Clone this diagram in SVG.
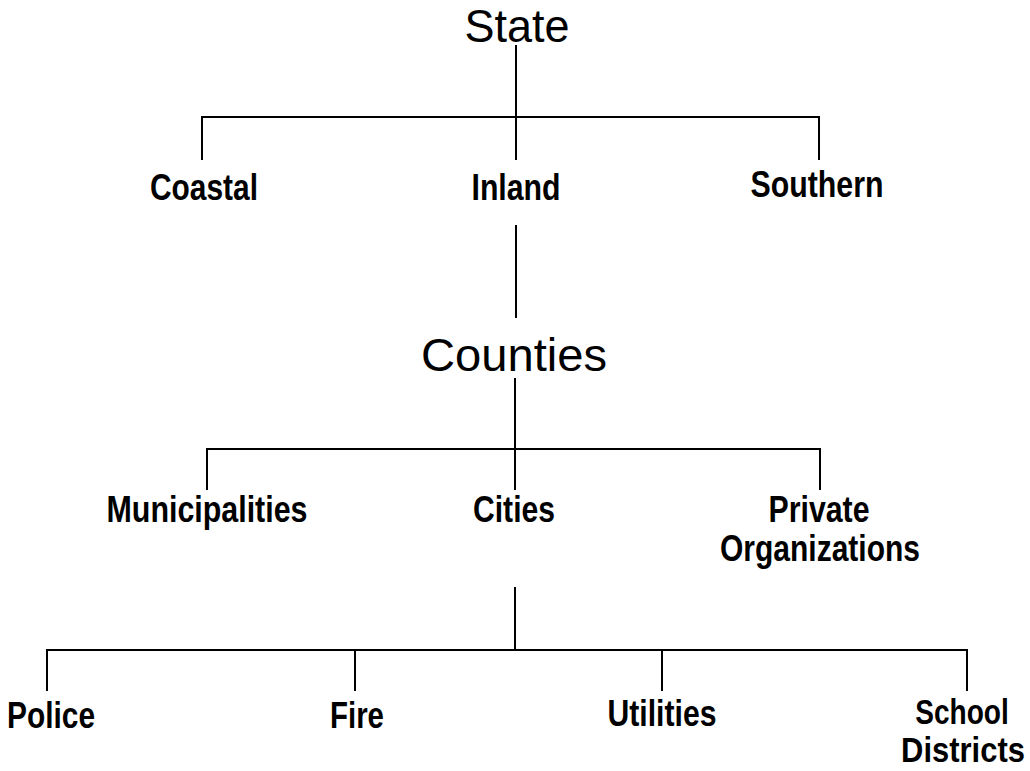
<svg xmlns="http://www.w3.org/2000/svg" width="1030" height="771" viewBox="0 0 1030 771">
<style>
text{font-family:"Liberation Sans",Arial,sans-serif;fill:#000;text-anchor:middle}
.big{font-size:47px}
.lbl{font-size:36px;font-weight:bold}
.c line{stroke:#000;stroke-width:2}
</style>
<rect width="1030" height="771" fill="#fff"/>
<g class="c" id="connectors">
<line x1="516" y1="45" x2="516" y2="160"/>
<line x1="202" y1="117" x2="820" y2="117"/>
<line x1="202" y1="116" x2="202" y2="160"/>
<line x1="819" y1="116" x2="819" y2="160"/>
<line x1="516" y1="225" x2="516" y2="318"/>
<line x1="515" y1="378" x2="515" y2="490"/>
<line x1="207" y1="449" x2="821" y2="449"/>
<line x1="207" y1="448" x2="207" y2="490"/>
<line x1="820" y1="448" x2="820" y2="490"/>
<line x1="515" y1="587" x2="515" y2="650"/>
<line x1="47" y1="650" x2="968" y2="650"/>
<line x1="47" y1="649" x2="47" y2="691"/>
<line x1="355" y1="649" x2="355" y2="691"/>
<line x1="662" y1="649" x2="662" y2="691"/>
<line x1="967" y1="649" x2="967" y2="691"/>
</g>
<g id="state"><text class="big" x="517" y="42" textLength="105" lengthAdjust="spacingAndGlyphs">State</text></g>
<g id="coastal"><text class="lbl" x="204" y="200" textLength="108" lengthAdjust="spacingAndGlyphs">Coastal</text></g>
<g id="inland"><text class="lbl" x="516" y="200" textLength="89" lengthAdjust="spacingAndGlyphs">Inland</text></g>
<g id="southern"><text class="lbl" x="817" y="197" textLength="133" lengthAdjust="spacingAndGlyphs">Southern</text></g>
<g id="counties"><text class="big" x="514" y="371" textLength="186" lengthAdjust="spacingAndGlyphs">Counties</text></g>
<g id="municipalities"><text class="lbl" x="207" y="522" textLength="201" lengthAdjust="spacingAndGlyphs">Municipalities</text></g>
<g id="cities"><text class="lbl" x="514" y="522" textLength="82" lengthAdjust="spacingAndGlyphs">Cities</text></g>
<g id="private"><text class="lbl" x="819" y="522" textLength="101" lengthAdjust="spacingAndGlyphs">Private</text><text class="lbl" x="820" y="561" textLength="200" lengthAdjust="spacingAndGlyphs">Organizations</text></g>
<g id="police"><text class="lbl" x="51" y="728" textLength="88" lengthAdjust="spacingAndGlyphs">Police</text></g>
<g id="fire"><text class="lbl" x="357" y="728" textLength="54" lengthAdjust="spacingAndGlyphs">Fire</text></g>
<g id="utilities"><text class="lbl" x="662" y="726" textLength="109" lengthAdjust="spacingAndGlyphs">Utilities</text></g>
<g id="school"><text class="lbl" transform="translate(962,724) scale(0.78,1)" x="0" y="0">School</text><text class="lbl" transform="translate(963,762) scale(0.86,1)" x="0" y="0">Districts</text></g>
</svg>
